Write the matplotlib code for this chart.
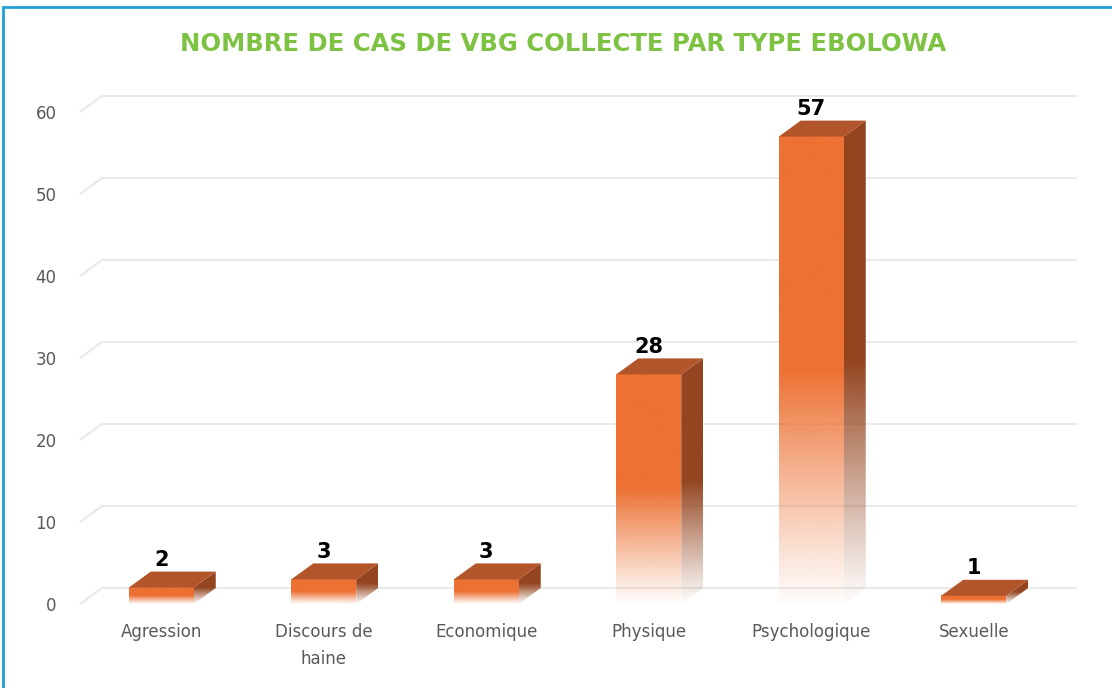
import numpy as np
import matplotlib
matplotlib.use("Agg")
import matplotlib.pyplot as plt
from matplotlib.patches import Polygon, Rectangle
from matplotlib.colors import to_rgb

categories = ["Agression", "Discours de\nhaine", "Economique", "Physique", "Psychologique", "Sexuelle"]
values = [2, 3, 3, 28, 57, 1]
yticks = [0, 10, 20, 30, 40, 50, 60]
title = "NOMBRE DE CAS DE VBG COLLECTE PAR TYPE EBOLOWA"

FRONT = "#EC7133"
TOP = "#B3552A"
SIDE = "#944520"
GRID = "#EAEAEA"
LABEL = "#595959"
TITLE_C = "#7DC242"

W, H, DPI = 1112, 688, 100
fig = plt.figure(figsize=(W / DPI, H / DPI), dpi=DPI)
fig.patch.set_facecolor("white")

# axes placement (front plane)
left_px, right_px = 80, 1055
zero_px, unit_px = 604, 8.2
ymax = 64
ax = fig.add_axes([left_px / W, (H - zero_px) / H, (right_px - left_px) / W, ymax * unit_px / H])
ax.set_facecolor("none")

DX = 22 / ((right_px - left_px) / 6)   # depth offset in category units
DY = 16 / unit_px                      # depth offset in value units
BW = 0.4

def grad(color, n=256):
    rgb = to_rgb(color)
    y = np.linspace(0, 1, n)
    a = np.clip(y / 0.5, 0, 1) ** 1.1
    a = 0.02 + 0.98 * a
    img = np.zeros((n, 1, 4))
    img[:, 0, :3] = rgb
    img[:, 0, 3] = a
    return img

x = np.arange(len(categories))

# back-wall gridlines
for v in yticks:
    ax.plot([-0.5, -0.5 + DX, 5.5 + DX], [v, v + DY, v + DY], color=GRID, lw=1.5,
            zorder=0, clip_on=False, solid_capstyle="butt")

for xi, v in zip(x, values):
    x0, x1 = xi - BW / 2, xi + BW / 2
    # front face with fade
    ax.imshow(grad(FRONT), extent=(x0, x1, 0, v), origin="lower", aspect="auto",
              interpolation="bilinear", zorder=3)
    # side face
    side = Polygon([(x1, 0), (x1 + DX, DY), (x1 + DX, v + DY), (x1, v)], closed=True,
                   facecolor="none", edgecolor="none", transform=ax.transData)
    ax.add_patch(side)
    im = ax.imshow(grad(SIDE), extent=(x1, x1 + DX, 0, v + DY), origin="lower",
                   aspect="auto", interpolation="bilinear", zorder=3)
    im.set_clip_path(side)
    # top face
    ax.add_patch(Polygon([(x0, v), (x1, v), (x1 + DX, v + DY), (x0 + DX, v + DY)],
                         closed=True, facecolor=TOP, edgecolor="none", zorder=4))
    ax.annotate(str(v), (xi, v + DY), xytext=(0, 1), textcoords="offset points",
                ha="center", va="bottom", fontsize=15, fontweight="bold", color="black", zorder=5)

ax.set_xlim(-0.5, 5.5)
ax.set_ylim(0, ymax)
ax.set_xticks(x)
ax.set_xticklabels(categories, fontsize=12, color=LABEL, linespacing=1.6)
ax.set_yticks(yticks)
ax.set_yticklabels([str(t) for t in yticks], fontsize=12, color=LABEL)
ax.tick_params(axis="both", length=0)
ax.tick_params(axis="y", pad=17)
ax.tick_params(axis="x", pad=14)
for s in ax.spines.values():
    s.set_visible(False)

fig.text(0.506, 1 - 44 / H, title, ha="center", va="center", fontsize=17.5,
         fontweight="bold", color=TITLE_C)

# chart border (top/left visible)
fig.patches.append(Rectangle((3 / W, -0.1), 1.2, (H - 7) / H + 0.1, transform=fig.transFigure,
                             facecolor="none", edgecolor="#1E9FD6", lw=2, zorder=10))

fig.savefig("out.png", dpi=DPI, facecolor="white")
